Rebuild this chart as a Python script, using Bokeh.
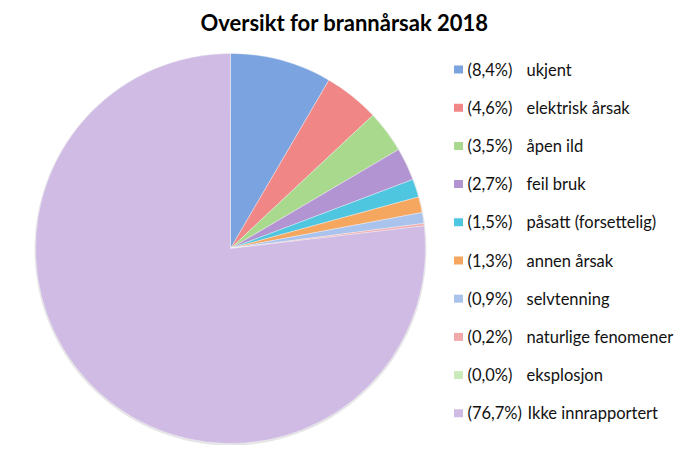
import math
from bokeh.plotting import figure
from bokeh.models import Range1d, ColumnDataSource
from bokeh.core.properties import value
from bokeh.embed import file_html
from bokeh.resources import INLINE

# ---- data ----
categories = ["ukjent", "elektrisk årsak", "åpen ild", "feil bruk", "påsatt (forsettelig)",
              "annen årsak", "selvtenning", "naturlige fenomener", "eksplosjon", "Ikke innrapportert"]
shares = [8.4, 4.6, 3.5, 2.7, 1.5, 1.3, 0.9, 0.2, 0.0, 76.7]
pct_labels = ["(8,4%)", "(4,6%)", "(3,5%)", "(2,7%)", "(1,5%)", "(1,3%)", "(0,9%)", "(0,2%)", "(0,0%)", "(76,7%)"]
colors = ["#7aa3e0", "#f08686", "#a9d98d", "#b394d2", "#4fc6df", "#f5a65f",
          "#a9c3ec", "#f3a9a9", "#c9eabb", "#cfbbe3"]
title = "Oversikt for brannårsak 2018"

W, H = 674, 445
p = figure(width=W, height=H, output_backend="svg", toolbar_location=None,
           x_range=Range1d(0, W), y_range=Range1d(453 - H, 453),
           min_border=0)
p.axis.visible = False
p.grid.visible = False
p.outline_line_color = None
p.background_fill_color = "white"

# ---- pie ----
total = sum(shares)
cx, cy, r = 230, 453 - 248, 195
starts, ends, cols = [], [], []
acc = 0.0
for s, c in zip(shares, colors):
    a0 = math.pi / 2 - 2 * math.pi * acc / total
    acc += s
    a1 = math.pi / 2 - 2 * math.pi * acc / total
    if s > 0:
        starts.append(a0)
        ends.append(a1)
        cols.append(c)
# soft shadow edge
p.circle(x=[cx], y=[cy - 1], radius=r + 1, fill_color="#cccccc", fill_alpha=0.5, line_color=None)
src = ColumnDataSource(dict(start=starts, end=ends, color=cols))
p.wedge(x=cx, y=cy, radius=r, start_angle="start", end_angle="end", direction="clock",
        fill_color="color", line_color="white", line_width=0.6, line_alpha=0.6, source=src)

# ---- title ----
p.text(x=[344], y=[453 - 22], text=[title], text_font=value("Lato"), text_font_style="bold",
       text_font_size="22px", text_align="center", text_baseline="middle", text_color="#000000")

# ---- legend ----
n = len(categories)
row_y = [453 - (69 + i * 38.2) for i in range(n)]
p.rect(x=[458] * n, y=row_y, width=9, height=8, fill_color=colors, line_color=None)
p.text(x=[467] * n, y=row_y, text=pct_labels, text_font=value("Lato"), text_font_size="16.5px",
       text_baseline="middle", text_color="#111111")
lab_x = [526] * (n - 1) + [527]
p.text(x=lab_x, y=row_y, text=categories, text_font=value("Lato"), text_font_size="16.5px",
       text_baseline="middle", text_color="#111111")

open("out.html", "w").write(file_html(p, INLINE))
